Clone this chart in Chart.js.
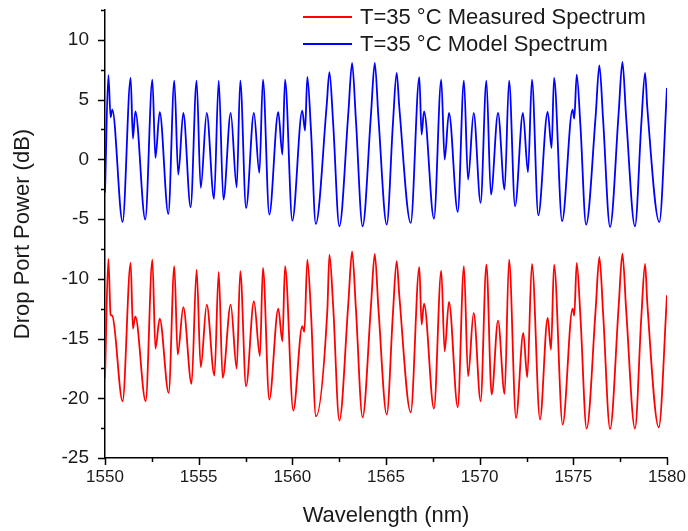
<!DOCTYPE html>
<html lang="en">
<head>
  <meta charset="UTF-8">
  <title>Drop Port Power</title>
  <script src="https://cdn.jsdelivr.net/npm/chart.js@4.4.1/dist/chart.umd.min.js"></script>
  <style>
    body { margin: 0; background: #fff; }
    .wrap { position: relative; width: 688px; height: 531px; }
    .legend { position: absolute; left: 303px; top: 3px; font: 22px "Liberation Sans", Arial, sans-serif; color: #1a1a1a; }
    .legend div { display: flex; align-items: center; height: 27px; white-space: nowrap; }
    .legend .line { display: inline-block; width: 49px; height: 0; border-top: 2px solid; margin-right: 8px; }
  </style>
</head>
<body>
  <div class="wrap">
    <canvas id="spectrum" width="688" height="531"></canvas>
    <div class="legend" id="legend"></div>
  </div>

  <script>
    // Measured spectrum (red): wavelength (nm) / power (dB)
    const measWl = [1550.00, 1550.18, 1550.30, 1550.39, 1550.94, 1551.37, 1551.49, 1551.62, 1552.17, 1552.53,
      1552.69, 1552.92, 1553.40, 1553.70, 1553.88, 1554.18, 1554.62, 1554.89, 1555.11, 1555.43,
      1555.84, 1556.07, 1556.28, 1556.71, 1557.03, 1557.22, 1557.53, 1557.95, 1558.27, 1558.43,
      1558.77, 1559.25, 1559.47, 1559.61, 1560.05, 1560.53, 1560.64, 1560.80, 1561.00, 1561.26,
      1561.87, 1561.98, 1562.18, 1562.51, 1562.99, 1563.19, 1563.39, 1563.75, 1564.20, 1564.40,
      1564.60, 1565.04, 1565.37, 1565.57, 1565.71, 1566.32, 1566.78, 1566.90, 1567.03, 1567.56,
      1567.95, 1568.13, 1568.36, 1568.83, 1569.16, 1569.38, 1569.68, 1570.05, 1570.36, 1570.64,
      1570.98, 1571.33, 1571.57, 1571.94, 1572.33, 1572.54, 1572.79, 1573.22, 1573.63, 1573.81,
      1573.97, 1574.43, 1574.96, 1575.05, 1575.18, 1575.38, 1575.71, 1576.19, 1576.39, 1576.59,
      1576.96, 1577.42, 1577.62, 1577.82, 1578.29, 1578.63, 1578.83, 1578.95, 1579.56, 1580.00];
    const measDb = [-18.3, -8.34, -13.0, -13.1, -20.25, -8.67, -14.17, -13.14, -20.25, -8.39,
      -15.84, -13.33, -19.55, -8.95, -16.34, -12.38, -18.80, -9.23, -17.40, -12.16,
      -18.10, -9.43, -18.3, -12.16, -17.52, -9.37, -19.0, -11.88, -16.48, -9.09,
      -20.11, -12.49, -15.23, -8.95, -21.03, -13.97, -14.45, -8.39, -13.0, -21.51,
      -12.58, -7.97, -12.3, -21.87, -12.0, -7.70, -12.4, -21.59, -12.2, -7.92,
      -12.6, -21.37, -12.9, -8.53, -11.4, -21.17, -9.03, -13.83, -12.08, -20.87,
      -9.31, -16.07, -11.94, -20.75, -8.95, -18.16, -12.86, -20.25, -8.81, -19.69,
      -13.5, -19.64, -8.39, -21.65, -14.53, -18.24, -8.76, -21.79, -13.28, -15.93,
      -8.81, -22.2, -12.49, -13.08, -8.67, -13.2, -22.54, -12.6, -8.17, -12.9,
      -22.57, -12.3, -7.89, -12.6, -22.54, -13.2, -8.76, -12.08, -22.43, -11.38];

    // Model spectrum (blue)
    const modelWl = [1550.00, 1550.18, 1550.30, 1550.39, 1550.94, 1551.37, 1551.49, 1551.62, 1552.15, 1552.53,
      1552.69, 1552.92, 1553.38, 1553.70, 1553.91, 1554.18, 1554.57, 1554.89, 1555.11, 1555.43,
      1555.82, 1556.07, 1556.32, 1556.71, 1557.03, 1557.22, 1557.53, 1557.95, 1558.24, 1558.43,
      1558.77, 1559.25, 1559.47, 1559.61, 1560.00, 1560.53, 1560.68, 1560.80, 1561.00, 1561.25,
      1561.83, 1561.98, 1562.18, 1562.51, 1562.99, 1563.19, 1563.39, 1563.75, 1564.20, 1564.40,
      1564.60, 1565.04, 1565.37, 1565.57, 1565.71, 1566.32, 1566.78, 1566.90, 1567.03, 1567.56,
      1567.95, 1568.13, 1568.36, 1568.83, 1569.16, 1569.38, 1569.68, 1570.05, 1570.36, 1570.60,
      1570.98, 1571.33, 1571.57, 1571.89, 1572.31, 1572.58, 1572.79, 1573.13, 1573.63, 1573.84,
      1573.97, 1574.40, 1574.96, 1575.05, 1575.18, 1575.38, 1575.68, 1576.19, 1576.39, 1576.59,
      1576.96, 1577.42, 1577.62, 1577.82, 1578.29, 1578.63, 1578.83, 1578.95, 1579.59, 1580.00];
    const modelDb = [-2.8, 7.04, 3.52, 4.16, -5.24, 6.81, 1.74, 4.02, -5.04, 6.67,
      0.12, 3.94, -4.57, 6.59, -1.28, 3.88, -4.01, 6.59, -2.39, 3.88,
      -3.31, 6.59, -3.37, 3.88, -2.34, 6.59, -4.07, 3.88, -1.14, 6.67,
      -4.63, 3.94, 0.40, 6.67, -5.13, 4.08, 2.41, 6.90, 2.3, -5.41,
      4.44, 7.29, 3.0, -5.60, 3.9, 8.07, 3.4, -5.60, 3.8, 8.07,
      3.4, -5.46, 3.0, 7.23, 4.36, -5.32, 6.87, 2.07, 4.02, -4.96,
      6.67, -0.02, 3.88, -4.40, 6.59, -1.70, 3.88, -3.65, 6.59, -2.95,
      3.88, -2.53, 6.59, -3.93, 3.88, -1.08, 6.67, -4.68, 3.97, 0.95,
      6.81, -5.18, 4.16, 3.41, 7.09, 2.8, -5.46, 3.6, 7.87, 3.3,
      -5.66, 3.9, 8.15, 3.5, -5.60, 3.0, 7.23, 4.30, -5.24, 5.98];

    const seriesLabels = ['T=35 °C Measured Spectrum', 'T=35 °C Model Spectrum'];
    const seriesColors = ['rgb(255, 0, 0)', 'rgb(0, 0, 255)'];

    const xTicks = [1550, 1555, 1560, 1565, 1570, 1575, 1580];
    const yTicks = [-25, -20, -15, -10, -5, 0, 5, 10];

    const FONT = '"Liberation Sans", Arial, sans-serif';
    const INK = '#1a1a1a';

    // kleine und grosse Striche an den Achsen
    const axisTicks = {
      id: 'axisTicks',
      afterDraw(chart) {
        const { ctx, chartArea } = chart;
        const xs = chart.scales.x;
        const ys = chart.scales.y;
        ctx.save();
        ctx.strokeStyle = '#000';
        ctx.lineWidth = 1.5;
        ctx.beginPath();
        for (let v = xs.min; v <= xs.max + 0.01; v += 2.5) {
          const px = Math.round(xs.getPixelForValue(v)) + 0.5;
          const len = xTicks.includes(v) ? 7 : 4;
          ctx.moveTo(px, chartArea.bottom);
          ctx.lineTo(px, chartArea.bottom + len);
        }
        for (let v = ys.min; v <= ys.max + 0.01; v += 2.5) {
          const py = Math.round(ys.getPixelForValue(v)) + 0.5;
          const len = yTicks.includes(v) ? 7 : 4;
          ctx.moveTo(chartArea.left, py);
          ctx.lineTo(chartArea.left - len, py);
        }
        ctx.stroke();
        ctx.restore();
      }
    };

    const toPoints = (wl, db) => wl.map((w, i) => ({ x: w, y: db[i] }));

    const ctx = document.getElementById('spectrum').getContext('2d');
    const chart = new Chart(ctx, {
      type: 'line',
      data: {
        datasets: [
          {
            label: seriesLabels[0],
            data: toPoints(measWl, measDb),
            borderColor: seriesColors[0],
            borderWidth: 1.8,
            pointRadius: 0,
            cubicInterpolationMode: 'monotone',
            fill: false
          },
          {
            label: seriesLabels[1],
            data: toPoints(modelWl, modelDb),
            borderColor: seriesColors[1],
            borderWidth: 1.8,
            pointRadius: 0,
            cubicInterpolationMode: 'monotone',
            fill: false
          }
        ]
      },
      options: {
        responsive: false,
        animation: false,
        events: [],
        layout: { padding: { top: 10, right: 21, left: 0, bottom: 0 } },
        plugins: {
          legend: { display: false },
          tooltip: { enabled: false }
        },
        scales: {
          x: {
            type: 'linear',
            min: 1550,
            max: 1580,
            grid: { display: false },
            border: { display: true, color: '#000', width: 1.5 },
            ticks: {
              stepSize: 5,
              autoSkip: false,
              maxRotation: 0,
              padding: 1,
              color: INK,
              font: { family: FONT, size: 17 },
              callback: (v) => String(v)
            },
            title: {
              display: true,
              text: 'Wavelength (nm)',
              color: INK,
              font: { family: FONT, size: 22 },
              padding: { top: 0, bottom: 2 }
            },
            afterFit: (scale) => {
              scale.height = 73;
              scale.paddingLeft = 0;
              scale.paddingRight = 0;
            }
          },
          y: {
            type: 'linear',
            min: -25,
            max: 12.5,
            grid: { display: false },
            border: { display: true, color: '#000', width: 1.5 },
            ticks: {
              stepSize: 5,
              includeBounds: false,
              padding: 8,
              color: INK,
              font: { family: FONT, size: 19 },
              callback: (v) => String(v)
            },
            title: {
              display: true,
              text: 'Drop Port Power (dB)',
              color: INK,
              font: { family: FONT, size: 22 },
              padding: { top: 10, bottom: 0 }
            },
            afterFit: (scale) => {
              scale.width = 105;
              scale.paddingTop = 0;
              scale.paddingBottom = 0;
            }
          }
        }
      },
      plugins: [axisTicks]
    });

    // Legende oben rechts, über dem Diagramm
    const legend = document.getElementById('legend');
    seriesLabels.forEach((label, i) => {
      const row = document.createElement('div');
      const line = document.createElement('span');
      line.className = 'line';
      line.style.borderColor = seriesColors[i];
      row.appendChild(line);
      row.appendChild(document.createTextNode(label));
      legend.appendChild(row);
    });
  </script>
</body>
</html>
